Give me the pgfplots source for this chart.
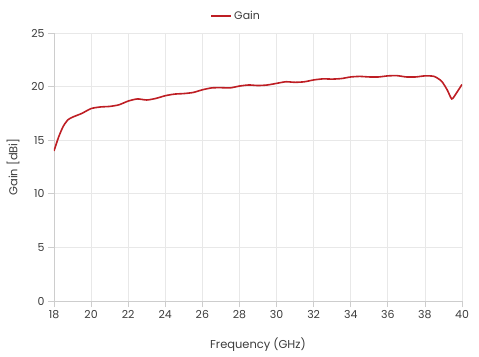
\documentclass[border=0pt]{standalone}
\usepackage{pgfplots}
\pgfplotsset{compat=1.18}
\usepackage{fontspec}
\setmainfont{Poppins}
\definecolor{gainred}{RGB}{190,30,36}
\definecolor{gridc}{RGB}{232,232,232}
\definecolor{axisc}{RGB}{205,205,205}
\definecolor{textc}{RGB}{60,60,60}
\begin{document}
\begin{tikzpicture}
\begin{axis}[
  scale only axis,
  width=408bp, height=268bp,
  xmin=18, xmax=40, ymin=0, ymax=25,
  xtick={18,20,...,40}, ytick={0,5,...,25},
  grid=major,
  grid style={gridc, line width=0.8bp},
  axis line style={axisc, line width=0.8bp},
  axis x line*=bottom, axis y line*=left,
  tick align=outside, major tick length=6bp,
  tick style={axisc, line width=0.8bp},
  /pgf/number format/assume math mode=true,
  ticklabel style={font=\fontsize{11}{13}\selectfont, text=textc},
  label style={font=\fontsize{11.5}{13}\selectfont, text=textc},
  xlabel={Frequency (GHz)}, ylabel={Gain [dBi]},
  xlabel style={yshift=-12bp},
  ylabel style={yshift=5bp},
  legend style={at={(0.446,1.063)}, anchor=center, draw=none, font=\fontsize{11}{13}\selectfont, text=textc, legend columns=1},
  legend image code/.code={\draw[#1, line width=2.2bp] (0bp,0bp) -- (20bp,0bp);},
]
\addplot[gainred, line width=1.6bp, smooth, tension=0.4] coordinates {
(18,14.0) (18.25,15.3) (18.5,16.3) (18.75,16.9) (19,17.15) (19.5,17.5) (20,17.95) (20.5,18.1) (21,18.15) (21.5,18.3) (22,18.65) (22.5,18.85) (23,18.75) (23.5,18.9) (24,19.15) (24.5,19.3) (25,19.35) (25.5,19.45) (26,19.7) (26.5,19.88) (27,19.9) (27.5,19.88) (28,20.05) (28.5,20.15) (29,20.1) (29.5,20.15) (30,20.3) (30.5,20.45) (31,20.4) (31.5,20.45) (32,20.62) (32.5,20.72) (33,20.7) (33.5,20.75) (34,20.9) (34.5,20.95) (35,20.9) (35.5,20.9) (36,21.0) (36.5,21.02) (37,20.9) (37.5,20.9) (38,21.0) (38.5,20.95) (38.9,20.5) (39.2,19.7) (39.45,18.85) (39.7,19.4) (40,20.2)
};
\addlegendentry{Gain}
\end{axis}
\pgfresetboundingbox
\path (current axis.south west) ++(-54bp,-56bp) rectangle ++(479bp,357bp);
\end{tikzpicture}
\end{document}
